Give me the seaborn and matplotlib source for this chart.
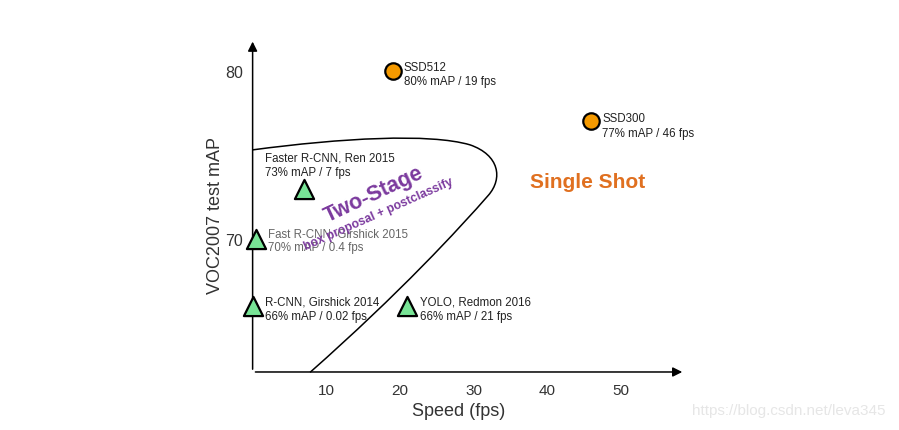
import pandas as pd
import matplotlib.pyplot as plt
import seaborn as sns
from matplotlib.path import Path
from matplotlib.patches import PathPatch

sns.set_style('white')
plt.rcParams['font.family'] = ['Liberation Sans', 'DejaVu Sans']

# --- data ---
names = ['SSD512', 'SSD300', 'Faster R-CNN, Ren 2015', 'Fast R-CNN, Girshick 2015',
         'R-CNN, Girshick 2014', 'YOLO, Redmon 2016']
stats = ['80% mAP / 19 fps', '77% mAP / 46 fps', '73% mAP / 7 fps', '70% mAP / 0.4 fps',
         '66% mAP / 0.02 fps', '66% mAP / 21 fps']
fps = [19, 46, 7, 0.4, 0.02, 21]
mAP = [80, 77, 73, 70, 66, 66]
family = ['SSD', 'SSD', 'other', 'other', 'other', 'other']

x_ticks = [10, 20, 30, 40, 50]
y_ticks = [70, 80]

# two-stage boundary (bezier: start, then 3 points per segment)
boundary_x = [0, 12, 24, 29.5, 33.5, 34.0, 32.0, 28.0, 20.0, 7.8]
boundary_y = [75.3, 76.0, 76.3, 75.6, 75.0, 73.6, 72.6, 70.6, 66.8, 62.08]

df = pd.DataFrame({'name': names, 'stats': stats, 'fps': fps, 'mAP': mAP, 'family': family})

# label offsets in pixels (from marker to top-left of text)
label_offsets = [(11, 10), (11, 9), (-39, 37), (12, 12), (12, 11), (13, 11)]

fig = plt.figure(figsize=(8.99, 4.31), dpi=100)
ax = fig.add_axes([0.281, 0.1346, 0.481, 0.773])
ax.set_xlim(0, 58.7)
ax.set_ylim(62.1, 81.9)

# boundary curve
codes = [Path.MOVETO] + [Path.CURVE4] * 9
patch = PathPatch(Path(list(zip(boundary_x, boundary_y)), codes), fill=False,
                  lw=1.1, edgecolor='black', zorder=2, clip_on=False)
ax.add_patch(patch)

# markers
sns.scatterplot(data=df[df.family == 'other'], x='fps', y='mAP', marker='^', s=190,
                color='#78e496', edgecolor='black', linewidth=1.6, zorder=4,
                clip_on=False, ax=ax, legend=False)
sns.scatterplot(data=df[df.family == 'SSD'], x='fps', y='mAP', marker='o', s=140,
                color='#f59a00', edgecolor='black', linewidth=1.6, zorder=4,
                clip_on=False, ax=ax, legend=False)

# labels
for i, row in df.iterrows():
    dx, dy = label_offsets[i]
    col = '#666666' if row['name'].startswith('Fast ') else '#222222'
    ax.annotate(row['name'] + '\n' + row['stats'], (row['fps'], row['mAP']),
                xytext=(dx, dy), textcoords='offset pixels', ha='left', va='top',
                fontsize=8.3, color=col, linespacing=1.25, zorder=3)

# region texts
ax.text(16.4, 72.7, 'Two-Stage', rotation=25, rotation_mode='anchor', ha='center',
        va='center', fontsize=15.5, fontweight='bold', color='#7b3a9e', zorder=5)
ax.text(17.1, 71.5, 'box proposal + postclassify', rotation=24, rotation_mode='anchor',
        ha='center', va='center', fontsize=8.8, fontweight='bold', color='#7b3a9e', zorder=5)
ax.text(45.5, 73.4, 'Single Shot', ha='center', va='center', fontsize=15,
        fontweight='bold', color='#e07020')

# axes with arrows
for s in ax.spines.values():
    s.set_visible(False)
ax.annotate('', xy=(1, 0), xytext=(0, 0), xycoords='axes fraction',
            arrowprops=dict(arrowstyle='-|>', color='black', lw=1.1, mutation_scale=14))
ax.annotate('', xy=(0, 1), xytext=(0, 0), xycoords='axes fraction',
            arrowprops=dict(arrowstyle='-|>', color='black', lw=1.1, mutation_scale=14))

ax.set_xticks(x_ticks)
ax.set_yticks(y_ticks)
ax.tick_params(axis='x', direction='in', length=4, width=0.6, labelsize=11,
               labelcolor='#333333', pad=8)
ax.tick_params(axis='y', direction='out', length=4, width=0.6, labelsize=11.5,
               labelcolor='#333333', pad=3)
ax.grid(False)
ax.set_xlabel('Speed (fps)', fontsize=13, color='#333333')
ax.set_ylabel('VOC2007 test mAP', fontsize=13, color='#333333')
ax.xaxis.set_label_coords(0.477, -0.09)
ax.yaxis.set_label_coords(-0.066, 0.474)

fig.text(0.77, 0.046, 'https://blog.csdn.net/leva345', fontsize=11,
         color='#e6e6e6', va='center')

plt.savefig('out.png', dpi=100)
